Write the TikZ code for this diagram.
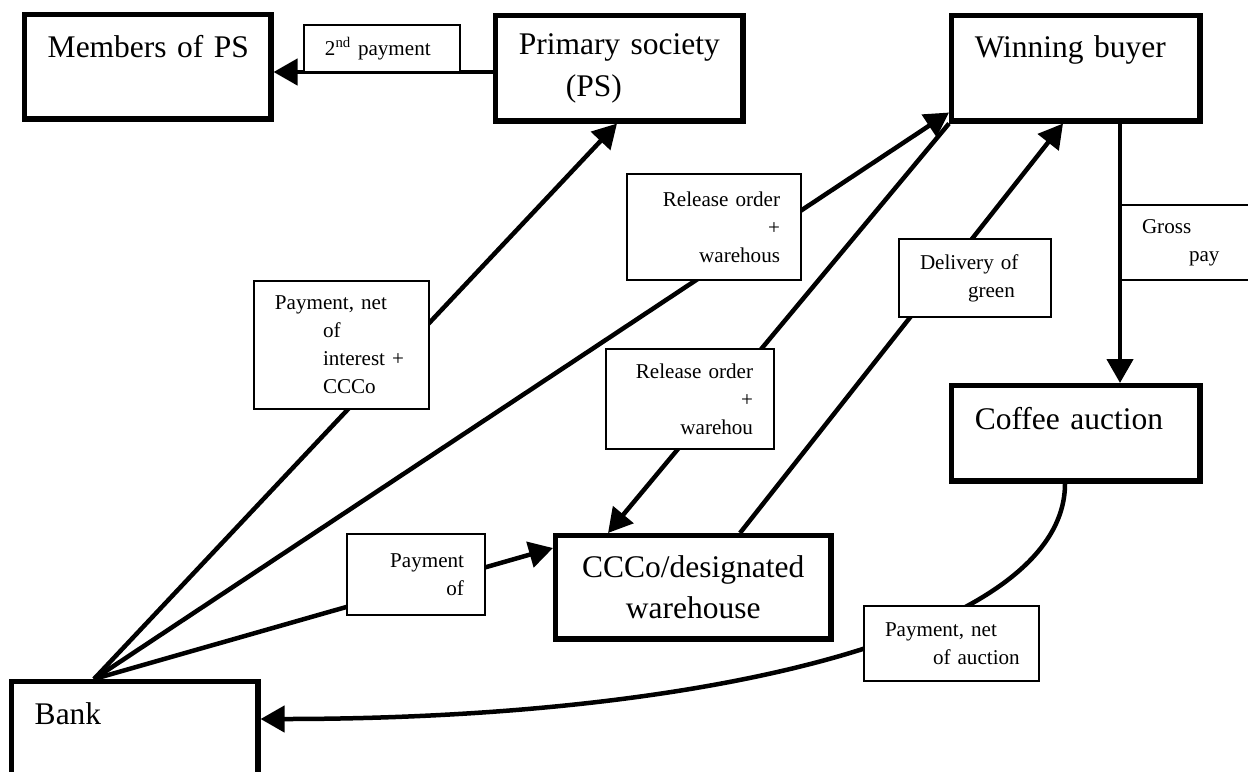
\documentclass[tikz,border=0pt]{standalone}
\usepackage{fontspec}
\setmainfont{Liberation Serif}
\usepackage{tikz}
\usetikzlibrary{arrows.meta}
\usetikzlibrary{calc}
\newcommand{\partyfont}{\fontsize{22.4pt}{29.5pt}\selectfont}
\newcommand{\notefont}{\fontsize{15pt}{20pt}\selectfont}
\tikzstyle{party}=[rectangle, draw, line width=3.9pt, fill=white, anchor=north west, font=\partyfont, inner xsep=0.575cm, inner ysep=0pt]
\tikzstyle{note}=[rectangle, draw, line width=1.4pt, fill=white, anchor=north west, font=\notefont, inner xsep=0.525cm, inner ysep=0pt]

\begin{document}
\begin{tikzpicture}[x=0.025cm, y=-0.025cm]
\useasboundingbox (0,0) rectangle (1248,771);
\clip (0,0) rectangle (1248,771);

\tikzset{>={Triangle[length=0.6cm, width=0.65cm]}}

%  all lines
\tikzset{every path/.style={line width=3.2pt}}

% Parties
\node[party, text width=5cm, text height=1.075cm, text depth=1.525cm, align=left] (members) at (22,12) {\mbox{Members of PS}};
\node[party, text width=5.025cm, minimum height=2.625cm, align=left] (ps) at (493,13) {\mbox{Primary society}\\ \hspace*{1.175cm}(PS)};
\node[party, text width=5.05cm, text height=1.05cm, text depth=1.575cm, align=left] (buyer) at (949,13) {\mbox{Winning buyer}};
\node[party, text width=5.05cm, text height=1.1cm, text depth=1.275cm, align=left] (auction) at (949,383) {\mbox{Coffee auction}};
\node[party, text width=5.725cm, minimum height=2.575cm, align=center] (ccco) at (553,533) {CCCo/designated\\ warehouse};
\node[party, text width=5cm, text height=1.075cm, text depth=1.825cm, align=left] (bank) at (9,679) {Bank};

\coordinate (banktop) at ($(bank.north west)+(85,0)$);

% Flows
\draw[->] ($(ps.north west)+(0,59)$) to ($(members.north east)+(0,60)$);
\draw[->] (banktop) to ($(ps.south west)+(124,0)$);
\draw[->] (banktop) to ($(buyer.south west)+(0,-11)$);
\draw[->] (buyer.south west) to ($(ccco.north west)+(55,0)$);
\draw[->] (banktop) to ($(ccco.north west)+(0,15)$);
\draw[->] ($(ccco.north west)+(187,0)$) to ($(buyer.south west)+(114,0)$);
\draw[->] ($(buyer.south west)+(171,0)$) to ($(auction.north west)+(171,0)$);
\draw[->] ($(auction.south west)+(116,0)$) .. controls +(0,150) and +(450,0) .. ($(bank.north east)+(0,40)$);

% Labels on the flows
\node[note, text width=2.85cm, minimum height=1.175cm, align=left] (lpay2) at (303,24) {\mbox{2\textsuperscript{nd} payment}};
\node[note, text width=3.325cm, minimum height=3.2cm, align=left] (lpayint) at (253,280) {\mbox{Payment, net}\\ \hspace*{1.2cm}of\\ \hspace*{1.2cm}\mbox{interest +}\\ \hspace*{1.2cm}CCCo};
\node[note, text width=3.3cm, minimum height=2.65cm, align=right] (lrel1) at (626,173) {\mbox{Release order}\\ +\\ warehous};
\node[note, text width=2.75cm, minimum height=1.95cm, align=left] (ldlv) at (898,238) {\mbox{Delivery of}\\ \hspace*{1.2cm}green};
\node[note, text width=2.575cm, minimum height=1.875cm, align=left] (lgross) at (1120,204) {Gross\\ \hspace*{1.175cm}pay};
\node[note, text width=3.15cm, minimum height=2.5cm, align=right] (lrel2) at (605,348) {\mbox{Release order}\\ +\\ warehou};
\node[note, text width=2.4cm, minimum height=2.025cm, align=right] (lpayof) at (346,533) {Payment\\ of};
\node[note, text width=3.325cm, minimum height=1.875cm, align=left] (lpayauc) at (863,605) {\mbox{Payment, net}\\ \hspace*{1.2cm}\mbox{of auction}};

\end{tikzpicture}
\end{document}
